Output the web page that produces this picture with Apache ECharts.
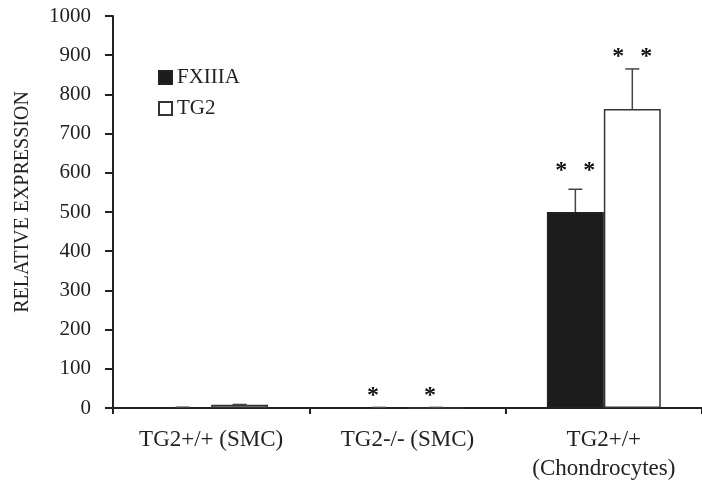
<!DOCTYPE html>
<html>
<head>
<meta charset="utf-8">
<script src="https://cdn.jsdelivr.net/npm/echarts@6/dist/echarts.min.js"></script>
<style>html,body{margin:0;padding:0;background:#fff;}#c{width:702px;height:483px;}</style>
</head>
<body>
<div id="c"></div>
<script>
var categories = ['TG2+/+ (SMC)', 'TG2-/- (SMC)', 'TG2+/+\n(Chondrocytes)'];
var fxiiiaValues = [1, 0.5, 500];
var fxiiiaErrors = [1, 1, 58];
var tg2Values = [8, 0.5, 763];
var tg2Errors = [1, 1, 102];
var yTicks = [0, 100, 200, 300, 400, 500, 600, 700, 800, 900, 1000];
var starCat = [1, 1, 2, 2];
var starSeries = [0, 1, 0, 1];
var starValue = [44, 44, 617, 909];
var starCount = [1, 1, 2, 2];

var FONT = 'Liberation Serif';
var BAR_FRAC = 0.29;
var chart = echarts.init(document.getElementById('c'));

var errData = [];
for (var i = 0; i < categories.length; i++) {
  errData.push([i, 0, fxiiiaValues[i], fxiiiaValues[i] + fxiiiaErrors[i]]);
  errData.push([i, 1, tg2Values[i], tg2Values[i] + tg2Errors[i]]);
}
var starData = [];
for (var j = 0; j < starCat.length; j++) {
  starData.push([starCat[j], starSeries[j], starValue[j], starCount[j]]);
}

function barOffset(api, s) {
  var band = api.size([1, 0])[0];
  var bw = band * BAR_FRAC;
  return s === 0 ? -bw / 2 : bw / 2;
}

chart.setOption({
  animation: false,
  grid: { left: 113, right: 0, top: 16, bottom: 75 },
  legend: {
    orient: 'vertical', left: 153, top: 62, itemWidth: 13, itemHeight: 13, itemGap: 10,
    icon: 'rect',
    data: ['FXIIIA', 'TG2'],
    textStyle: { fontFamily: FONT, fontSize: 21, color: '#222' }
  },
  xAxis: {
    type: 'category', data: categories,
    axisLine: { lineStyle: { color: '#222', width: 2 } },
    axisTick: { show: true, length: 6, lineStyle: { color: '#222', width: 2 } },
    axisLabel: { fontFamily: FONT, fontSize: 23, color: '#222', margin: 17, lineHeight: 29, interval: 0 }
  },
  yAxis: {
    type: 'value', min: 0, max: 1000, interval: 100,
    name: 'RELATIVE EXPRESSION', nameLocation: 'middle', nameGap: 80,
    nameTextStyle: { fontFamily: FONT, fontSize: 20, color: '#222', padding: [0, 0, 0, 20] },
    axisLine: { show: true, lineStyle: { color: '#222', width: 2 } },
    axisTick: { show: true, length: 8, lineStyle: { color: '#222', width: 2 } },
    splitLine: { show: false },
    axisLabel: {
      fontFamily: FONT, fontSize: 21, color: '#222', margin: 22,
      formatter: function (v) { return yTicks.indexOf(v) >= 0 ? String(v) : ''; }
    }
  },
  series: [
    {
      name: 'FXIIIA', type: 'bar', data: fxiiiaValues, barWidth: (BAR_FRAC * 100) + '%', barGap: '0%',
      itemStyle: { color: '#1c1c1c', borderColor: '#222', borderWidth: 1.5 }
    },
    {
      name: 'TG2', type: 'bar', data: tg2Values, barWidth: (BAR_FRAC * 100) + '%', barGap: '0%',
      itemStyle: { color: '#fff', borderColor: '#333', borderWidth: 1.5 }
    },
    {
      type: 'custom', data: errData, z: 5,
      renderItem: function (params, api) {
        var c = api.value(0), s = api.value(1);
        var off = barOffset(api, s);
        var p0 = api.coord([c, api.value(2)]);
        var p1 = api.coord([c, api.value(3)]);
        var x = p0[0] + off;
        var half = 7;
        return {
          type: 'group',
          children: [
            { type: 'line', shape: { x1: x, y1: p0[1], x2: x, y2: p1[1] }, style: { stroke: '#444', lineWidth: 1.5 } },
            { type: 'line', shape: { x1: x - half, y1: p1[1], x2: x + half, y2: p1[1] }, style: { stroke: '#444', lineWidth: 1.5 } }
          ]
        };
      }
    },
    {
      type: 'custom', data: starData, z: 6,
      renderItem: function (params, api) {
        var c = api.value(0), s = api.value(1), n = api.value(3);
        var off = barOffset(api, s);
        var p = api.coord([c, api.value(2)]);
        var x = p[0] + off;
        var kids = [];
        var xs = n === 2 ? [x - 14, x + 14] : [x - 6];
        for (var k = 0; k < xs.length; k++) {
          kids.push({ type: 'text', style: { text: '*', x: xs[k], y: p[1] + 5, align: 'center', verticalAlign: 'middle',
            font: 'bold 24px "Liberation Serif"', fill: '#111' } });
        }
        return { type: 'group', children: kids };
      }
    }
  ]
});
</script>
</body>
</html>
